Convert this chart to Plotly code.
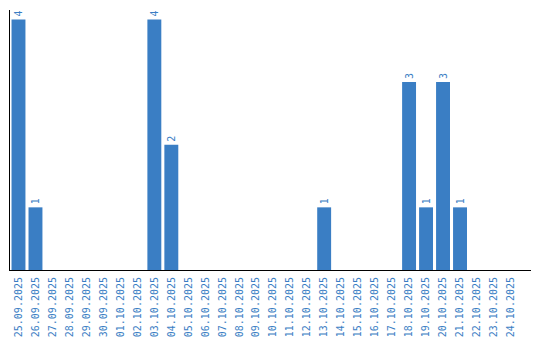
import plotly.graph_objects as go

dates = ["25.09.2025", "26.09.2025", "27.09.2025", "28.09.2025", "29.09.2025", "30.09.2025",
         "01.10.2025", "02.10.2025", "03.10.2025", "04.10.2025", "05.10.2025", "06.10.2025",
         "07.10.2025", "08.10.2025", "09.10.2025", "10.10.2025", "11.10.2025", "12.10.2025",
         "13.10.2025", "14.10.2025", "15.10.2025", "16.10.2025", "17.10.2025", "18.10.2025",
         "19.10.2025", "20.10.2025", "21.10.2025", "22.10.2025", "23.10.2025", "24.10.2025"]
counts = [4, 1, 0, 0, 0, 0, 0, 0, 4, 2, 0, 0, 0, 0, 0, 0, 0, 0,
          1, 0, 0, 0, 0, 3, 1, 3, 1, 0, 0, 0]

blue = "#3a7ec4"
labels = [str(v) if v > 0 else "" for v in counts]

fig = go.Figure(go.Bar(
    x=dates, y=counts, marker_color=blue, marker_line_width=0,
    text=labels, textposition="outside", textangle=-90,
    textfont=dict(family="DejaVu Sans Mono", size=10, color=blue),
    cliponaxis=False,
))
fig.update_layout(
    width=540, height=340, margin=dict(l=10, r=9, t=10, b=70, autoexpand=False),
    plot_bgcolor="white", paper_bgcolor="white", bargap=0.18,
    showlegend=False,
)
fig.update_xaxes(type="category", range=[-0.5, 30.18], showline=True, linecolor="black",
                 linewidth=1, showgrid=False, ticks="", tickangle=-90, automargin=False,
                 ticklabelstandoff=2,
                 tickfont=dict(family="DejaVu Sans Mono", size=10, color=blue))
fig.update_yaxes(range=[0, 4.15], showline=True, linecolor="black", linewidth=1,
                 showgrid=False, showticklabels=False, ticks="", zeroline=False,
                 automargin=False)
fig.write_html("out.html")
